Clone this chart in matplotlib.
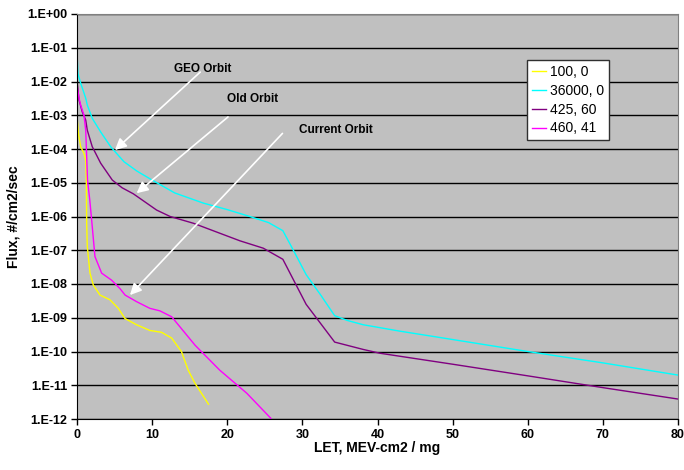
#!/usr/bin/env python3

import numpy as np
import matplotlib
matplotlib.use('Agg')
import matplotlib.pyplot as plt
from matplotlib.ticker import FixedLocator, FuncFormatter, NullLocator

plt.rcParams['font.family'] = ['Liberation Sans', 'DejaVu Sans']

# LET (MeV-cm2/mg) and integral flux (#/cm2/sec) per orbit
let_100_0 = [0, 0.22, 0.49, 0.93, 1.16, 1.24, 1.29, 1.37, 1.73, 2.17, 3.06, 4.39,
             5.5, 6.38, 7.93, 9.7, 11.26, 12.6, 13.9, 14.8, 15.7, 17.5]
flux_100_0 = [9.1e-4, 2.6e-4, 1.17e-4, 7.4e-5, 4.7e-5, 1.2e-5, 6.3e-7, 1.3e-7,
              2.1e-8, 9.3e-9, 4.7e-9, 3.4e-9, 1.9e-9, 9.5e-10, 6.2e-10, 4.2e-10,
              3.7e-10, 2.5e-10, 1.0e-10, 2.8e-11, 1.15e-11, 2.75e-12]

let_36000_0 = [0, 0.13, 0.49, 1.16, 1.37, 2.03, 3.15, 4.48, 6.25, 8, 10, 13, 16.8,
               20, 23, 25.5, 27.4, 28.8, 30.5, 32.5, 34.3, 36, 38.1, 43, 48.3,
               60, 70, 80]
flux_36000_0 = [6.9e-2, 1.7e-2, 8.9e-3, 3.2e-3, 2.0e-3, 8.1e-4, 3.2e-4, 1.17e-4,
                4.2e-5, 2.2e-5, 1.2e-5, 5.0e-6, 2.5e-6, 1.6e-6, 1.0e-6, 6.6e-7,
                3.8e-7, 1.0e-7, 1.9e-8, 4.5e-9, 1.15e-9, 8.3e-10, 6.2e-10, 4.0e-10,
                2.6e-10, 1.0e-10, 4.6e-11, 2.0e-11]

let_425_60 = [0, 0.27, 0.7, 1.16, 1.37, 2.03, 3.15, 4.7, 6.0, 7.5, 10.6, 12.4, 15.5,
              19, 21.7, 24.8, 27.4, 30.5, 34.3, 38.1, 40.3, 50, 60, 70, 80]
flux_425_60 = [1.1e-2, 2.8e-3, 1.26e-3, 7.2e-4, 3.6e-4, 1.17e-4, 3.8e-5, 1.2e-5,
               7.1e-6, 4.7e-6, 1.55e-6, 1.0e-6, 6.3e-7, 3.2e-7, 1.9e-7, 1.15e-7,
               5.4e-8, 2.5e-9, 1.9e-10, 1.15e-10, 8.9e-11, 4.2e-11, 1.9e-11,
               8.5e-12, 3.9e-12]

let_460_41 = [0, 0.27, 0.49, 0.93, 1.16, 1.29, 1.4, 1.7, 1.95, 2.39, 3.28, 4.6, 5.7,
              6.4, 7.93, 9.7, 11.04, 12.6, 15.7, 19.0, 22.6, 25.8]
flux_460_41 = [7.9e-3, 3.2e-3, 2.0e-3, 1.0e-3, 3.6e-4, 5.9e-5, 1.2e-5, 3.1e-6,
               7.9e-7, 6.5e-8, 2.1e-8, 1.3e-8, 7.4e-9, 4.7e-9, 3.0e-9, 1.9e-9,
               1.6e-9, 1.07e-9, 1.55e-10, 2.8e-11, 5.8e-12, 1.05e-12]

series = [('100, 0', let_100_0, flux_100_0, '#FFFF00'),
          ('36000, 0', let_36000_0, flux_36000_0, '#00FFFF'),
          ('425, 60', let_425_60, flux_425_60, '#800080'),
          ('460, 41', let_460_41, flux_460_41, '#FF00FF')]

# annotation: (text, text pos, arrow tail, arrow tip) in data units
notes = [('GEO Orbit', (16.7, 2.3e-2), (16.4, 1.9e-2), (5.05, 9.3e-5)),
         ('Old Orbit', (23.4, 3.0e-3), (20.1, 8.9e-4), (7.94, 4.9e-6)),
         ('Current Orbit', (34.5, 3.6e-4), (27.35, 2.9e-4), (7.05, 4.7e-9))]

y_ticks = [10.0**e for e in range(0, -13, -1)]
x_ticks = list(range(0, 81, 10))

fig = plt.figure(figsize=(6.84, 4.70), dpi=100)
ax = fig.add_axes([77/684, 1-419/470, 601/684, 405/470])
ax.set_facecolor('#C0C0C0')

for name, xs, ys, col in series:
    ax.plot(xs, ys, color=col, lw=1.0, label=name)

ax.set_yscale('log')
ax.set_xlim(0, 80)
ax.set_ylim(1e-12, 1e0)
ax.yaxis.set_major_locator(FixedLocator(y_ticks))
ax.yaxis.set_minor_locator(NullLocator())
ax.yaxis.set_major_formatter(FuncFormatter(lambda v, p: f'1.E{int(round(np.log10(v))):+03d}'))
ax.set_xticks(x_ticks)
ax.grid(axis='y', color='black', lw=1.0)
ax.set_axisbelow(True)

ax.tick_params(axis='both', direction='out', length=4, width=1, labelsize=9, pad=3)
for lab in ax.get_xticklabels() + ax.get_yticklabels():
    lab.set_fontweight('bold')
for s in ['left', 'bottom']:
    ax.spines[s].set_color('black')
for s in ['right', 'top']:
    ax.spines[s].set_color('#808080')

ax.set_xlabel('LET, MEV-cm2 / mg', fontsize=10, fontweight='bold', labelpad=0)
ax.set_ylabel('Flux, #/cm2/sec', fontsize=10, fontweight='bold', labelpad=5)

for txt, tpos, tail, tip in notes:
    ax.text(tpos[0], tpos[1], txt, fontsize=8.5, fontweight='bold', ha='center', va='center')
    ax.annotate('', xy=tip, xytext=tail,
                arrowprops=dict(arrowstyle='-|>', color='white', lw=1.2,
                                mutation_scale=17, shrinkA=0, shrinkB=0))

leg = ax.legend(loc='upper left', bbox_to_anchor=(450/601, (419-60)/405),
                borderaxespad=0, fancybox=False, framealpha=1, fontsize=10,
                handlelength=1.0, handletextpad=0.3, labelspacing=0.35,
                borderpad=0.35)
leg.get_frame().set_edgecolor('#303030')
leg.get_frame().set_linewidth(1.0)

fig.savefig('out.png', dpi=100)
plt.close()
